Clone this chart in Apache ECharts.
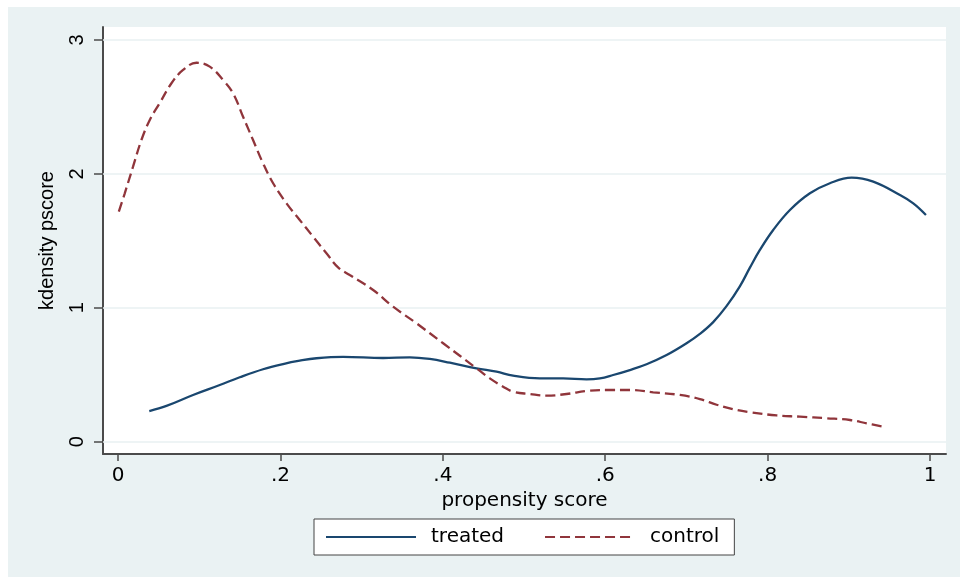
<!DOCTYPE html>
<html>
<head>
<meta charset="utf-8">
<script src="https://cdn.jsdelivr.net/npm/echarts@6/dist/echarts.min.js"></script>
<style>
html,body{margin:0;padding:0;background:#ffffff;}
#chart{width:960px;height:577px;}
</style>
</head>
<body>
<div id="chart"></div>
<script>
// ---- data ----
const treatedX = [0.0385,0.0596,0.0924,0.1253,0.1499,0.1786,0.2033,0.2238,0.2444,0.2772,0.3265,0.3594,0.384,0.4087,0.4415,0.4662,0.4866,0.5195,0.5482,0.577,0.5934,0.6098,0.6304,0.6509,0.6756,0.7002,0.7166,0.733,0.7494,0.7658,0.7782,0.7905,0.8069,0.8275,0.8521,0.8767,0.9035,0.9301,0.963,0.9794,0.995];
const treatedY = [0.229,0.267,0.349,0.423,0.481,0.541,0.580,0.605,0.623,0.633,0.625,0.630,0.618,0.590,0.548,0.523,0.493,0.473,0.473,0.466,0.473,0.498,0.535,0.578,0.647,0.735,0.805,0.893,1.012,1.160,1.300,1.432,1.581,1.730,1.855,1.930,1.972,1.942,1.842,1.780,1.693];
const controlX = [0.001,0.0083,0.0185,0.0288,0.0391,0.0514,0.0658,0.0801,0.0966,0.113,0.1294,0.1417,0.154,0.1663,0.1786,0.191,0.2075,0.2238,0.2402,0.2567,0.271,0.2854,0.3142,0.3388,0.3676,0.4004,0.4415,0.4579,0.4743,0.4866,0.5072,0.5277,0.5524,0.577,0.6017,0.6304,0.6591,0.692,0.7166,0.7372,0.7576,0.7782,0.8111,0.8398,0.8727,0.9014,0.922,0.9425];
const controlY = [1.718,1.855,2.054,2.253,2.403,2.529,2.677,2.776,2.830,2.801,2.701,2.602,2.427,2.253,2.079,1.930,1.780,1.656,1.531,1.407,1.302,1.245,1.133,1.008,0.884,0.735,0.548,0.473,0.411,0.373,0.356,0.344,0.356,0.379,0.386,0.386,0.369,0.349,0.318,0.276,0.242,0.220,0.196,0.187,0.175,0.162,0.137,0.112];
const xTickValues = [0,0.2,0.4,0.6,0.8,1];
const xTickLabels = ['0','.2','.4','.6','.8','1'];
const yTickValues = [0,1,2,3];
const yTickLabels = ['0','1','2','3'];
const seriesNames = ['treated','control'];
const xTitle = 'propensity score';
const yTitle = 'kdensity pscore';

const zip = (a,b) => a.map((v,i)=>[v,b[i]]);
const axisColor = '#4b4b4b';
const gridColor = '#E8F0F2';
const horizFont = 'DejaVu Sans';
const vertFont = 'Liberation Sans';

const chart = echarts.init(document.getElementById('chart'), null, {renderer:'canvas'});
chart.setOption({
  animation:false,
  backgroundColor:'#ffffff',
  graphic:[{type:'rect',z:-10,silent:true,shape:{x:8,y:7,width:952,height:570},style:{fill:'#EAF2F3'}}],
  grid:{left:103,right:14,top:27,bottom:123,show:true,backgroundColor:'#ffffff',borderWidth:0},
  xAxis:{
    type:'value',min:-0.0185,max:1.0197,
    name:xTitle,nameLocation:'middle',nameGap:27,
    nameTextStyle:{fontFamily:horizFont,fontSize:20,color:'#000'},
    axisLine:{show:true,onZero:false,lineStyle:{color:axisColor,width:2}},
    axisTick:{show:true,customValues:xTickValues,length:7,inside:false,lineStyle:{color:axisColor,width:1.5}},
    axisLabel:{customValues:xTickValues,margin:12,fontFamily:horizFont,fontSize:20,color:'#000',
      formatter:(v)=>{const i=xTickValues.findIndex(t=>Math.abs(t-v)<1e-9);return i>=0?xTickLabels[i]:'';}},
    splitLine:{show:false}
  },
  yAxis:{
    type:'value',min:-0.092,max:3.097,
    name:yTitle,nameLocation:'middle',nameGap:46,nameRotate:90,
    nameTextStyle:{fontFamily:vertFont,fontSize:20,color:'#000'},
    axisLine:{show:true,onZero:false,lineStyle:{color:axisColor,width:2}},
    axisTick:{show:true,customValues:yTickValues,length:9,inside:false,lineStyle:{color:axisColor,width:1.5}},
    axisLabel:{customValues:yTickValues,rotate:90,margin:16,fontFamily:vertFont,fontSize:20,color:'#000',
      formatter:(v)=>{const i=yTickValues.findIndex(t=>Math.abs(t-v)<1e-9);return i>=0?yTickLabels[i]:'';}},
    splitLine:{show:false}
  },
  legend:{
    left:314,top:519,orient:'horizontal',
    data:seriesNames,
    itemWidth:90,itemHeight:20,itemGap:40,
    padding:[8,15,8,11],
    backgroundColor:'#ffffff',borderColor:'#444444',borderWidth:1,borderRadius:0,
    itemStyle:{color:'rgba(0,0,0,0)',borderColor:'rgba(0,0,0,0)',borderWidth:0,opacity:0},
    textStyle:{fontFamily:horizFont,fontSize:20,color:'#000',padding:[0,0,0,10]}
  },
  series:[
    {name:'grid',type:'line',data:[],silent:true,z:1,symbol:'none',
      markLine:{silent:true,z:1,symbol:['none','none'],label:{show:false},
        lineStyle:{color:gridColor,width:1.5,type:'solid'},
        data:yTickValues.map(v=>({yAxis:v}))}},
    {name:seriesNames[0],type:'line',data:zip(treatedX,treatedY),symbol:'none',showSymbol:false,smooth:0.4,z:3,
      color:'#1A476F',lineStyle:{color:'#1A476F',width:2.3}},
    {name:seriesNames[1],type:'line',data:zip(controlX,controlY),symbol:'none',showSymbol:false,smooth:0.4,z:3,
      color:'#90353B',lineStyle:{color:'#90353B',width:2.3,type:[10,5]}}
  ]
});
</script>
</body>
</html>
